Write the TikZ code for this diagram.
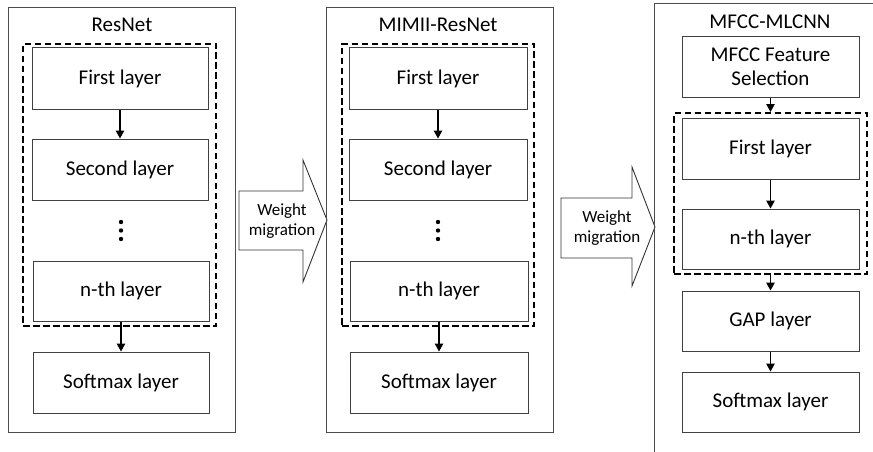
\documentclass[tikz,border=0pt]{standalone}
\usepackage{fontspec}
\setmainfont{Carlito}
\usetikzlibrary{arrows.meta}
\begin{document}
\begin{tikzpicture}[x=1pt,y=-1pt,
  layerbox/.style={draw=black!75, line width=1pt, fill=white, minimum width=176pt, inner sep=0pt, align=center, font=\fontsize{21}{24}\selectfont},
  panel/.style={draw=black!70, line width=1pt, minimum width=227pt, minimum height=424pt, inner sep=0pt},
  dashbox/.style={draw=black, line width=2pt, dash pattern=on 6.5pt off 3.5pt, inner sep=0pt},
  title/.style={font=\fontsize{21}{24}\selectfont, inner sep=0pt},
  flow/.style={draw=black, line width=1.1pt, -{Triangle[length=8pt,width=8.5pt]}},
  migr/.style={draw=black!80, line width=0.9pt, fill=white},
  migrtext/.style={font=\fontsize{17}{20}\selectfont, align=center, inner sep=0pt},
  dot/.style={circle, fill=black, inner sep=0pt, minimum size=4.4pt}
]
\useasboundingbox (0,0) rectangle (873,452);

% ---------- Panel 1: ResNet ----------
\node[panel] (p1) at (121.5,220) {};
\node[title] (t1) at (122,25) {ResNet};
\node[dashbox, minimum width=193pt, minimum height=282pt] (d1) at (119.5,185) {};
\node[layerbox, minimum height=61pt] (a1) at (120,78.5) {First layer};
\node[layerbox, minimum height=61pt] (a2) at (120,169.5) {Second layer};
\node[dot] (a3a) at (121,222) {};
\node[dot] (a3b) at (121,230.5) {};
\node[dot] (a3c) at (121,239) {};
\node[layerbox, minimum height=60pt] (a4) at (121,291) {n-th layer};
\node[layerbox, minimum height=61pt] (a5) at (121,382.5) {Softmax layer};
\draw[flow] (a1) -- (a2);
\draw[flow] (a4) -- (a5);

% ---------- Weight migration 1 ----------
\coordinate (m1a) at (239,191);
\coordinate (m1b) at (303,191);
\coordinate (m1c) at (303,160);
\coordinate (m1d) at (327,220);
\coordinate (m1e) at (303,282);
\coordinate (m1f) at (303,250);
\coordinate (m1g) at (239,250);
\draw[migr] (m1a) -- (m1b) -- (m1c) -- (m1d) -- (m1e) -- (m1f) -- (m1g) -- cycle;
\node[migrtext] (w1) at (282,221) {Weight\\migration};

% ---------- Panel 2: MIMII-ResNet ----------
\node[panel] (p2) at (439.5,220) {};
\node[title] (t2) at (438,25) {MIMII-ResNet};
\node[dashbox, minimum width=192pt, minimum height=282pt] (d2) at (438,185) {};
\node[layerbox, minimum width=178pt, minimum height=61pt] (b1) at (438,78.5) {First layer};
\node[layerbox, minimum width=178pt, minimum height=61pt] (b2) at (438,169.5) {Second layer};
\node[dot] (b3a) at (438,222) {};
\node[dot] (b3b) at (438,230.5) {};
\node[dot] (b3c) at (438,239) {};
\node[layerbox, minimum width=178pt, minimum height=60pt] (b4) at (439,291) {n-th layer};
\node[layerbox, minimum width=178pt, minimum height=61pt] (b5) at (439,382.5) {Softmax layer};
\draw[flow] (b1) -- (b2);
\draw[flow] (b4) -- (b5);

% ---------- Weight migration 2 ----------
\coordinate (m2a) at (561,198);
\coordinate (m2b) at (632,198);
\coordinate (m2c) at (632,167);
\coordinate (m2d) at (655,227);
\coordinate (m2e) at (632,286);
\coordinate (m2f) at (632,258);
\coordinate (m2g) at (561,258);
\draw[migr] (m2a) -- (m2b) -- (m2c) -- (m2d) -- (m2e) -- (m2f) -- (m2g) -- cycle;
\node[migrtext] (w2) at (607,228) {Weight\\migration};

% ---------- Panel 3: MFCC-MLCNN ----------
\coordinate (p3a) at (654,452);
\coordinate (p3b) at (654,3.5);
\coordinate (p3c) at (873,3.5);
\draw[draw=black!70, line width=1pt] (p3a) -- (p3b) -- (p3c);
\node[title] (t3) at (770,22) {MFCC-MLCNN};
\node[layerbox, minimum width=177pt, minimum height=60pt] (c0) at (770.5,67) {MFCC Feature\\Selection};
\node[dashbox, minimum width=193pt, minimum height=161pt] (d3) at (770.5,193.5) {};
\node[layerbox, minimum width=177pt, minimum height=61pt] (c1) at (770.5,148.5) {First layer};
\node[layerbox, minimum width=177pt, minimum height=60pt] (c2) at (770.5,239) {n-th layer};
\node[layerbox, minimum width=177pt, minimum height=60pt] (c3) at (770.5,321) {GAP layer};
\node[layerbox, minimum width=177pt, minimum height=60pt] (c4) at (770.5,402) {Softmax layer};
\draw[flow] (c0) -- (d3.north);
\draw[flow] (c1) -- (c2);
\draw[flow] (d3.south) -- (c3);
\draw[flow] (c3) -- (c4);
\end{tikzpicture}
\end{document}
